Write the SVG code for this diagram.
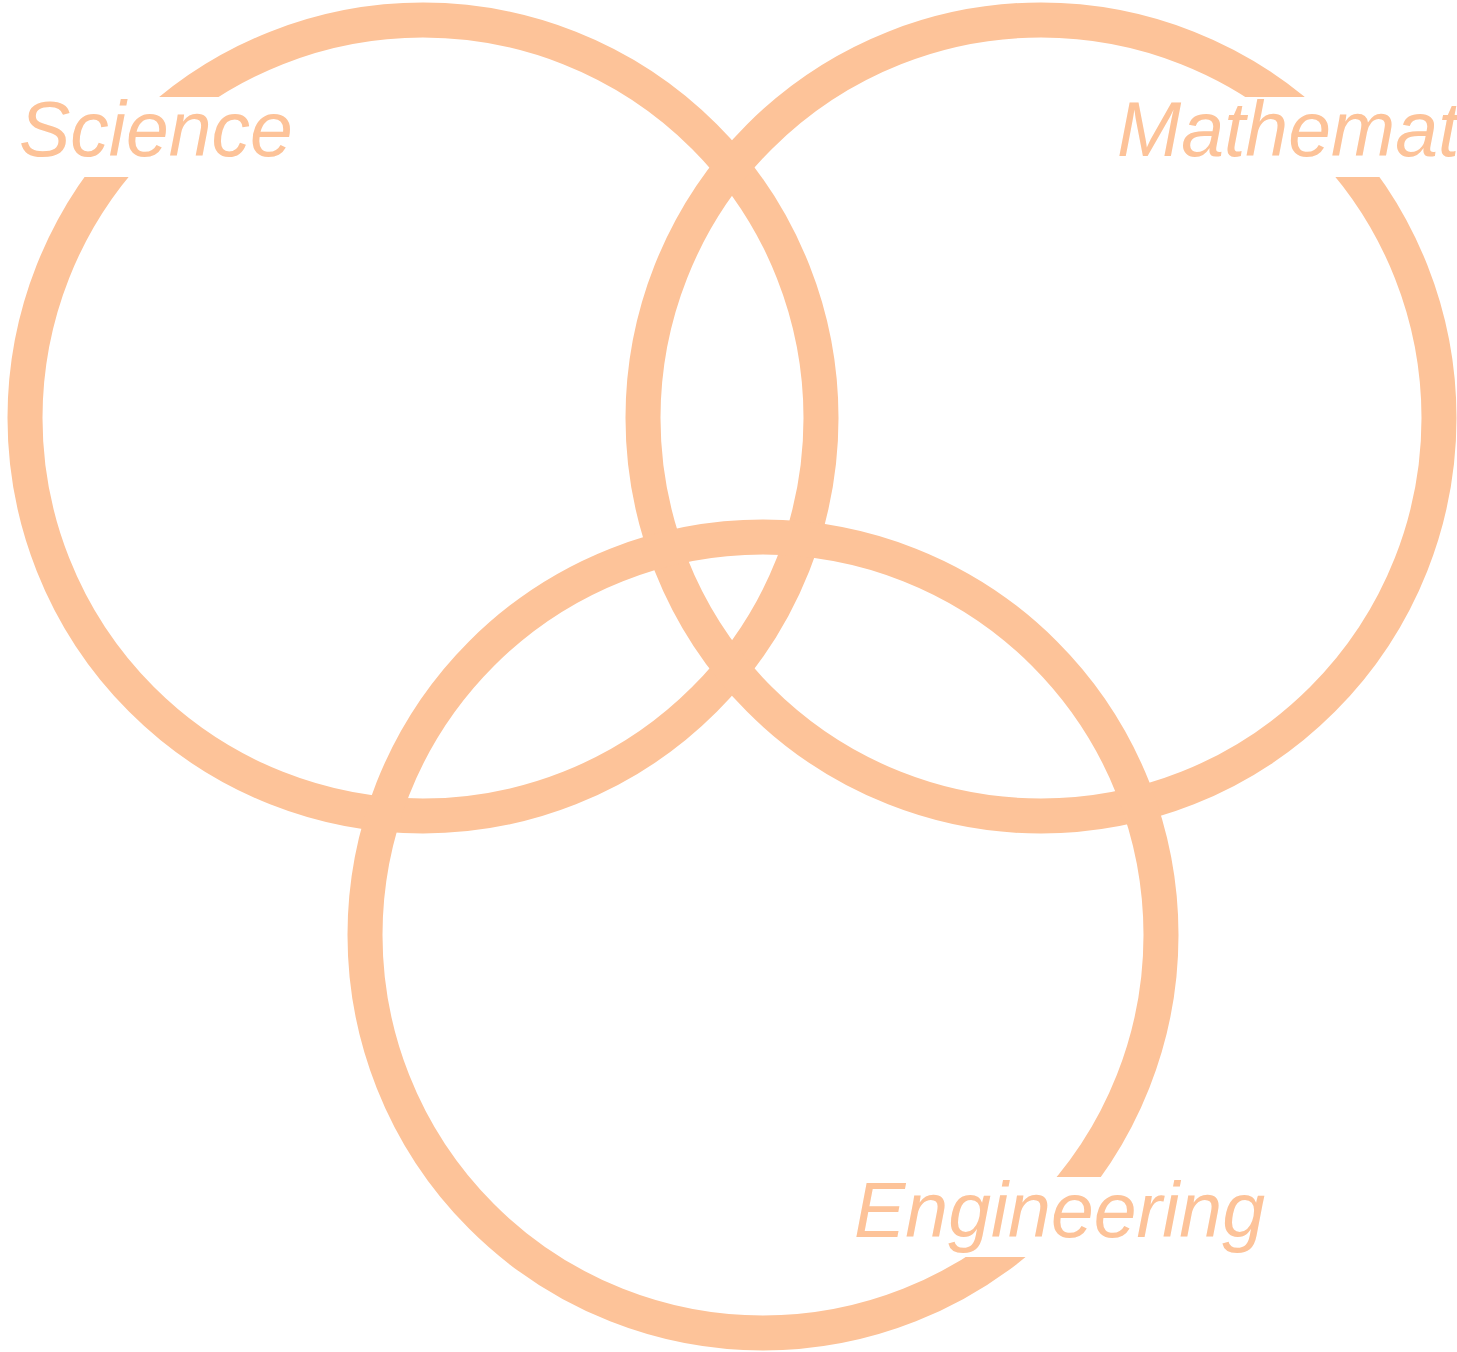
<svg xmlns="http://www.w3.org/2000/svg" width="1457" height="1352" viewBox="0 0 1457 1352">
<style>
.ring{fill:none;stroke:#FDC399;stroke-width:35}
.bg{fill:#FFFFFF}
.lbl{font-family:"Liberation Sans",Arial,sans-serif;font-style:italic;font-size:77px;fill:#FDC399}
</style>
<rect x="0" y="0" width="1457" height="1352" fill="#FFFFFF"/>
<g id="science">
<circle class="ring" cx="423" cy="418" r="398"/>
</g>
<g id="mathematics">
<circle class="ring" cx="1041" cy="418" r="398"/>
</g>
<g id="engineering">
<circle class="ring" cx="763" cy="935" r="398"/>
</g>
<g id="connectors"></g>
<g id="science-label">
<rect class="bg" x="10" y="97" width="290" height="80"/>
<text class="lbl" x="19" y="156">Science</text>
</g>
<g id="mathematics-label">
<rect class="bg" x="1108" y="97" width="349" height="80"/>
<text class="lbl" x="1117" y="156">Mathematics</text>
</g>
<g id="engineering-label">
<rect class="bg" x="845" y="1177" width="430" height="80"/>
<text class="lbl" x="854" y="1237">Engineering</text>
</g>
</svg>
